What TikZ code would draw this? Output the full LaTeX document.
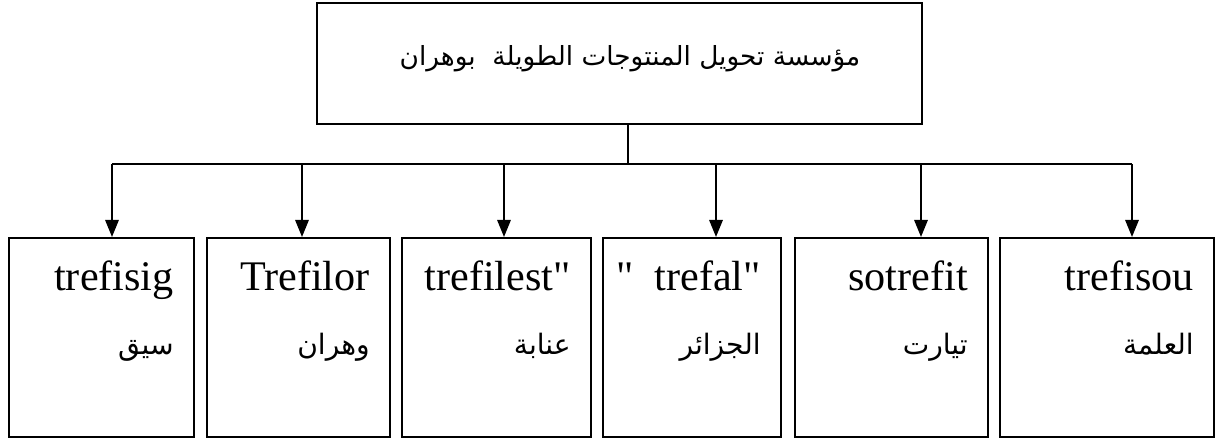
\documentclass[tikz,border=0pt]{standalone}
\usepackage{fontspec}
\setmainfont{Liberation Serif}
\newfontfamily\arabicfont[Script=Arabic]{DejaVu Sans}
\TeXXeTstate=1
\usetikzlibrary{positioning, calc, arrows.meta}

\tikzset{
  box/.style={draw, line width=1.2pt, rectangle, inner sep=0pt},
  subbox/.style={box, minimum height=199*0.02cm},
  latinlbl/.style={inner sep=0pt, font=\fontsize{24}{28}\selectfont},
  arlbl/.style={inner sep=0pt, font=\fontsize{16}{20}\selectfont},
  arr/.style={-{Triangle[length=0.34cm, width=0.27cm]}, line width=0.9pt},
}

\begin{document}
\begin{tikzpicture}[x=0.02cm, y=-0.02cm]
  \useasboundingbox (0,0) rectangle (1219,439);
  % main unit
  \node[box, minimum width=605*0.02cm, minimum height=121*0.02cm] (top) at (619.5,63.5) {};
  \node[arlbl, font=\fontsize{15}{20}\selectfont] (toplbl) at (630,59) {\arabicfont\beginR مؤسسة تحويل المنتوجات الطويلة\ \ بوهران\endR};
  % units
  \foreach \n/\cx/\w/\lat/\ar in {b1/101.5/185/trefisig/سيق,
                                  b2/298.5/183/Trefilor/وهران,
                                  b3/496.5/189/trefilest\textquotedbl/عنابة,
                                  b4/692/178/\textquotedbl\ \ trefal\textquotedbl/الجزائر,
                                  b5/891.5/193/sotrefit/تيارت,
                                  b6/1107/214/trefisou/العلمة}{
    \node[subbox, minimum width=\w*0.02cm] (\n) at (\cx,337.5) {};
    \node[latinlbl, anchor=base east] (\n-lat) at ($(\n.north east)+(-21,54)$) {\lat};
    \node[arlbl, anchor=base east] (\n-ar) at ($(\n.north east)+(-21,118)$) {\arabicfont\beginR\ar\endR};
  }
  % connectors
  \coordinate (busL) at (112,164);
  \coordinate (busR) at (1132,164);
  \coordinate (stem) at (628,164);
  \draw[line width=0.9pt] (top.south -| stem) -- (stem);
  \draw[line width=0.9pt] (busL) -- (busR);
  \foreach \n/\x in {b1/112, b2/302, b3/504, b4/716, b5/921, b6/1132}{
    \coordinate (\n-t) at (\x,164);
    \draw[arr] (\n-t) -- (\n-t |- \n.north);
  }
\end{tikzpicture}
\end{document}
